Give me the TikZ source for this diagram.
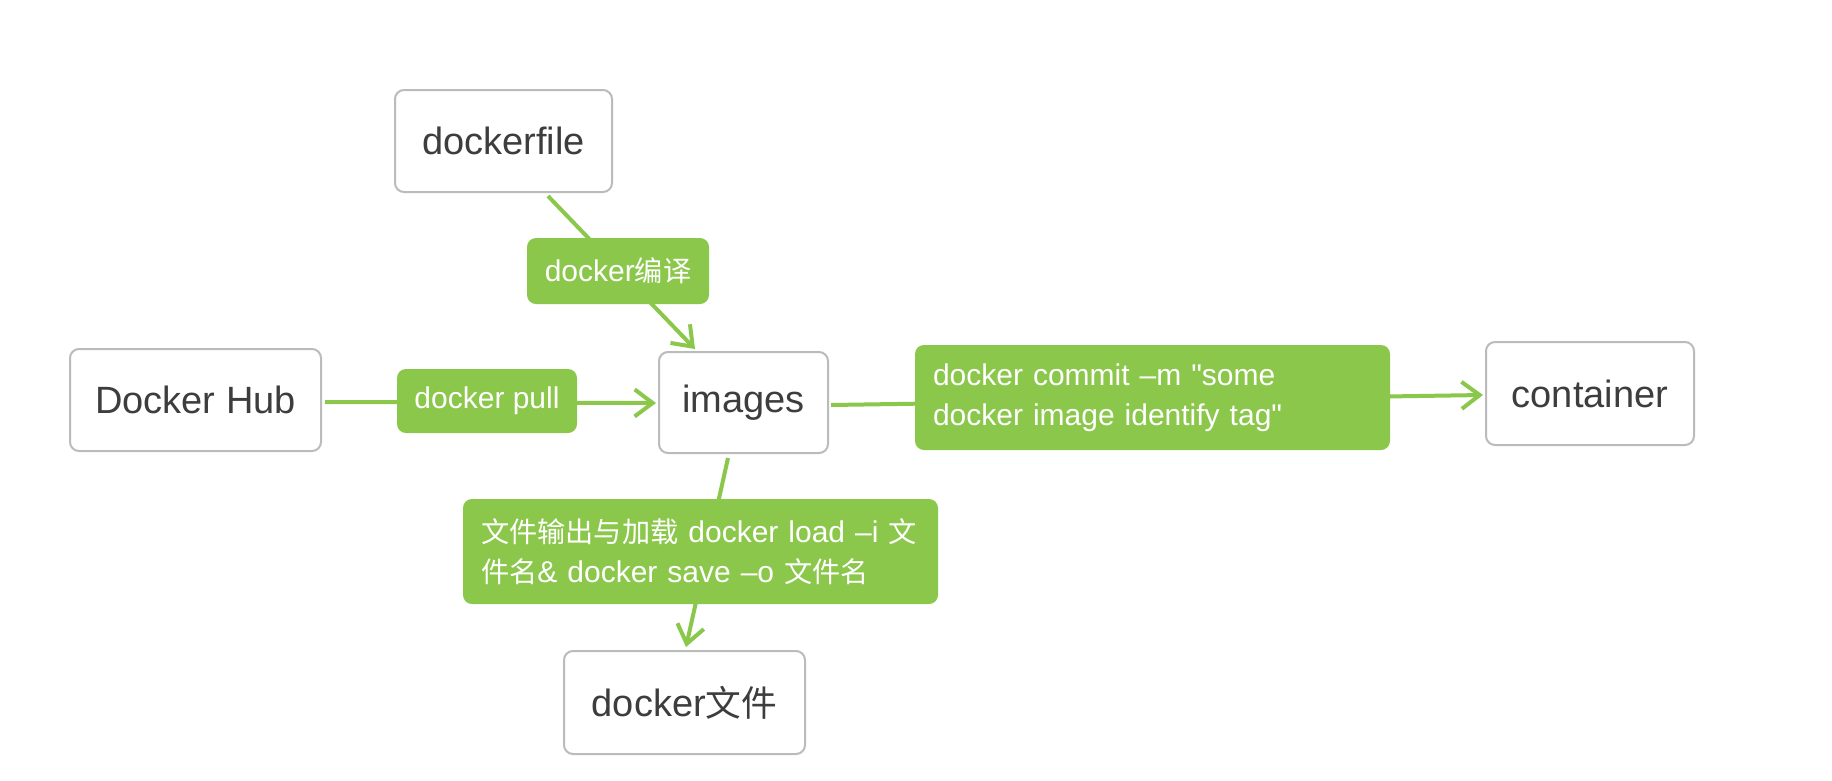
\documentclass[tikz,border=0pt]{standalone}
\usepackage{fontspec}
\setmainfont{Liberation Sans}[Ligatures=TeXOff]
\newfontfamily\cjk[Scale=0.94]{Noto Sans CJK SC}
\usetikzlibrary{arrows.meta,calc,backgrounds}
\definecolor{lgreen}{HTML}{8BC74B}
\definecolor{boxline}{HTML}{BBBBBB}
\definecolor{boxtext}{HTML}{3D3D3D}
\tikzset{
  box/.style={draw=boxline, line width=2pt, rounded corners=9pt, fill=white,
    text=boxtext, inner sep=0pt, font=\fontsize{38}{46}\selectfont},
  lbl/.style={fill=lgreen, rounded corners=9pt, text=white, inner sep=0pt,
    font=\fontsize{30}{40}\selectfont},
  lblwide/.style={lbl, align=left, text width=439pt, inner xsep=18pt,
    minimum height=105pt},
  conn/.style={draw=lgreen, line width=4pt},
  arr/.style={conn, -{Straight Barb[length=18pt, width=27pt, line width=4pt]}}
}
\begin{document}
\begin{tikzpicture}[x=1pt, y=-1pt]
\useasboundingbox (0,0) rectangle (1832,780);
% boxes
\node[box, minimum width=217pt, minimum height=102pt] (dockerfile) at (503.5,141) {dockerfile};
\node[box, minimum width=251pt, minimum height=102pt] (dhub) at (195.5,400) {Docker Hub};
\node[box, minimum width=169pt, minimum height=101pt] (images) at (743.5,402.5) {images};
\node[box, minimum width=208pt, minimum height=103pt] (container) at (1590,393.5) {container};
\node[box, minimum width=241pt, minimum height=103pt] (dfile) at (684.5,702.5) {docker{\cjk 文件}};
% labels
\node[lbl, minimum width=182pt, minimum height=66pt] (lbuild) at (618,271) {docker{\cjk 编译}};
\node[lbl, minimum width=180pt, minimum height=64pt] (lpull) at (487,401) {docker pull};
\node[lblwide] (lcommit) at (1152.5,397.5) {\mbox{docker commit –m "some}\\\mbox{docker image identify tag"}};
\node[lblwide] (lsave) at (700.5,551.5) {\mbox{{\cjk 文件输出与加载} docker load –i {\cjk 文}}\\\mbox{{\cjk 件名}\& docker save –o {\cjk 文件名}}};
% connectors
\begin{scope}[on background layer]
\fill[white] (0,0) rectangle (1832,780);
\draw[arr] ($(dockerfile.south)+(44.5,3)$) -- ($(images.north)+(-48.5,-2)$);
\draw[arr] ($(dhub.east)+(3,2)$) -- ($(images.west)+(-2,0.5)$);
\draw[arr] ($(images.east)+(2,2.5)$) -- ($(container.west)+(-2,1.5)$);
\draw[arr] ($(images.south)+(-15.5,4)$) -- ($(dfile.north)+(1.5,-3)$);
\end{scope}
\end{tikzpicture}
\end{document}
